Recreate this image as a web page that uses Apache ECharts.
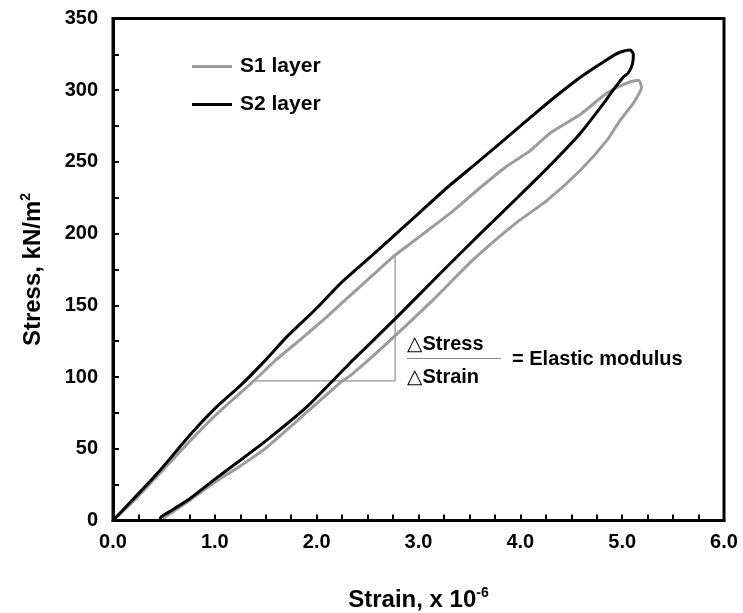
<!DOCTYPE html>
<html>
<head>
<meta charset="utf-8">
<script src="https://cdn.jsdelivr.net/npm/echarts@6/dist/echarts.min.js"></script>
<style>
html,body{margin:0;padding:0;background:#fff;}
#chart{width:743px;height:613px;}
</style>
</head>
<body>
<div id="chart"></div>
<script>
// Strain (x 10^-6), Stress (kN/m^2)
const s2Strain = [0,0.2,0.45,0.756,1.0,1.25,1.5,1.706,2.0,2.23,2.5,2.72,3.0,3.28,3.55,3.8,4.1,4.3,4.59,4.8,4.92,5.0,5.08,5.11,5.1,5.06,5.01,4.9,4.82,4.59,4.27,3.97,3.65,3.21,2.79,2.46,2.33,1.9,1.51,1.25,0.985,0.75,0.55,0.48,0.46];
const s2Stress = [0,15,34,59.6,78,94,112,128,148,165,182,196,214,232,248,263,281,293,309,319,324.5,327,328,325,318,312,309,299,291,270,246,225,203,172,142,119,110,79,56,42,28,15,6,3,1];
const s1Strain = [0,0.25,0.5,0.75,1.0,1.378,1.6,1.837,2.1,2.33,2.55,2.753,3.05,3.343,3.605,3.867,4.1,4.29,4.587,4.85,5.046,5.16,5.19,5.11,4.98,4.85,4.587,4.26,3.95,3.54,3.146,2.62,2.33,2.23,1.8,1.51,1.25,0.985,0.75,0.494];
const s1Stress = [0,17,36,55,73,97,112,126,142,157,171,184,200,216,232,247,258,270,283,298,305,307,302,291,279,265,244,223,207,182,154,119,101,96,69,51,38,26,14,1.5];
// slope triangle (annotation)
const triStrain = [1.378,2.77,2.77];
const triStress = [97.3,97.3,184];
const xTicks = [0,1,2,3,4,5,6];
const yTicks = [0,50,100,150,200,250,300,350];

const zip = (a,b)=>a.map((v,i)=>[v,b[i]]);
const chart = echarts.init(document.getElementById('chart'));
const FF = '"Liberation Sans", Arial, sans-serif';
const nameRich = {
  a:{fontFamily:FF,fontWeight:'bold',fontSize:24,color:'#000'},
  s:{fontFamily:FF,fontWeight:'bold',fontSize:14,color:'#000',verticalAlign:'top',padding:[0,0,14,0]}
};
chart.setOption({
  animation:false,
  grid:{left:113,right:19,top:18.5,bottom:92.5,outerBoundsMode:'none',containLabel:false,show:true,borderColor:'#000',borderWidth:3},
  legend:{
    orient:'vertical',left:192,top:55,padding:0,icon:'rect',itemWidth:40,itemHeight:3,itemGap:15,
    data:['S1 layer','S2 layer'],
    textStyle:{fontFamily:FF,fontWeight:'bold',fontSize:21,color:'#000',lineHeight:23,padding:[0,0,0,3]}
  },
  xAxis:{
    type:'value',min:xTicks[0],max:xTicks[xTicks.length-1],interval:1,
    axisLine:{show:true,lineStyle:{color:'#000',width:3}},
    axisTick:{show:true,inside:true,length:6,lineStyle:{color:'#000',width:2}},
    minorTick:{show:true,splitNumber:4,length:6,lineStyle:{color:'#000',width:2}},
    splitLine:{show:false},
    axisLabel:{margin:12,formatter:v=>v.toFixed(1),fontFamily:FF,fontWeight:'bold',fontSize:20,color:'#000'},
    name:'{a|Strain, x 10}{s|-6}',nameLocation:'middle',nameGap:66,
    nameTextStyle:{rich:nameRich}
  },
  yAxis:{
    type:'value',min:yTicks[0],max:yTicks[yTicks.length-1],interval:50,
    axisLine:{show:true,lineStyle:{color:'#000',width:3}},
    axisTick:{show:true,inside:true,length:6,lineStyle:{color:'#000',width:2}},
    minorTick:{show:true,splitNumber:2,length:6,lineStyle:{color:'#000',width:2}},
    splitLine:{show:false},
    axisLabel:{margin:15,fontFamily:FF,fontWeight:'bold',fontSize:20,color:'#000'},
    name:'{a|Stress, kN/m}{s|2}',nameLocation:'middle',nameGap:66,
    nameTextStyle:{rich:nameRich}
  },
  series:[
    {name:'S1 layer',type:'line',data:zip(s1Strain,s1Stress),showSymbol:false,symbol:'none',smooth:0.2,lineStyle:{color:'#9c9c9c',width:3},itemStyle:{color:'#9c9c9c'},z:2},
    {name:'S2 layer',type:'line',data:zip(s2Strain,s2Stress),showSymbol:false,symbol:'none',smooth:0.2,lineStyle:{color:'#000000',width:3},itemStyle:{color:'#000000'},z:3},
    {name:'triangle',type:'line',data:zip(triStrain,triStress),showSymbol:false,symbol:'none',lineStyle:{color:'#777777',width:1},z:1,silent:true}
  ],
  graphic:[
    {type:'text',left:407,top:334,style:{text:'△Stress',font:'bold 20px "Liberation Sans", "DejaVu Sans", sans-serif',fill:'#000'}},
    {type:'line',shape:{x1:407,y1:358.5,x2:501,y2:358.5},style:{stroke:'#888',lineWidth:1}},
    {type:'text',left:407,top:367,style:{text:'△Strain',font:'bold 20px "Liberation Sans", "DejaVu Sans", sans-serif',fill:'#000'}},
    {type:'text',left:512,top:349,style:{text:'= Elastic modulus',font:'bold 20px "Liberation Sans", sans-serif',fill:'#000'}}
  ]
});
</script>
</body>
</html>
